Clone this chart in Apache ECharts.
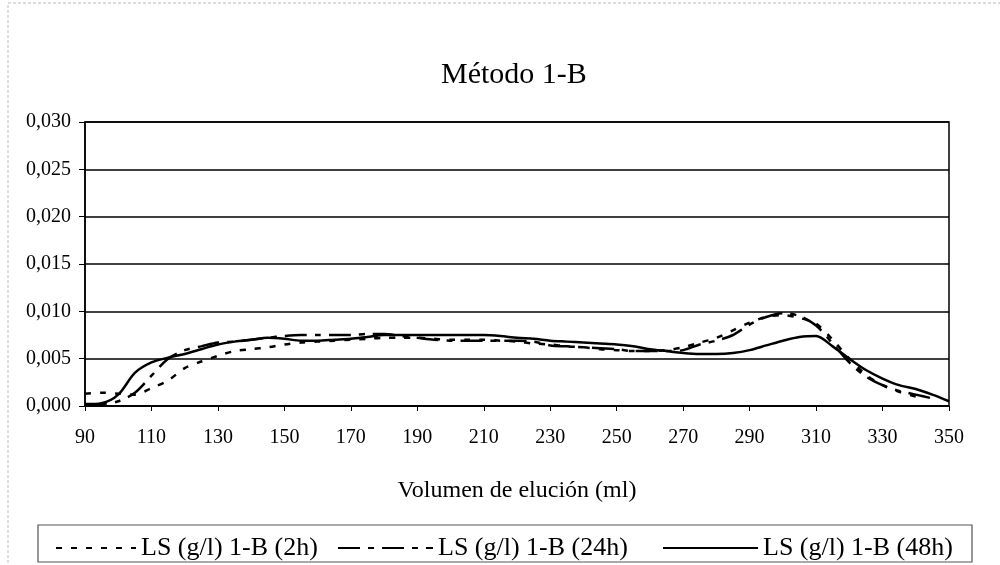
<!DOCTYPE html>
<html>
<head>
<meta charset="utf-8">
<script src="https://cdn.jsdelivr.net/npm/echarts@6/dist/echarts.min.js"></script>
<style>
    html, body { margin: 0; padding: 0; background: #fff; }
    #chart { width: 1000px; height: 565px; }
</style>
</head>
<body>
<div id="chart"></div>
<script>
// elution volume (ml), one reading every 5 ml
const volumes = [90, 95, 100, 105, 110, 115, 120, 125, 130, 135, 140, 145, 150, 155, 160, 165, 170, 175, 180, 185,
    190, 195, 200, 205, 210, 215, 220, 225, 230, 235, 240, 245, 250, 255, 260, 265, 270, 275, 280, 285,
    290, 295, 300, 305, 310, 315, 320, 325, 330, 335, 340, 345, 350]

const ls2h = [0.0013, 0.0014, 0.0013, 0.0012, 0.0019, 0.0027, 0.0040, 0.0047, 0.0053, 0.0058, 0.0060, 0.0062, 0.0065, 0.0067, 0.0068, 0.0069, 0.0070, 0.0071, 0.0072, 0.0072,
    0.0072, 0.0071, 0.0070, 0.0070, 0.0070, 0.0069, 0.0068, 0.0066, 0.0065, 0.0063, 0.0062, 0.0060, 0.0059, 0.0058, 0.0058, 0.0059, 0.0062, 0.0067, 0.0072, 0.0080,
    0.0088, 0.0094, 0.0096, 0.0093, 0.0087, 0.0070, 0.0050, 0.0033, 0.0022, 0.0015, 0.0010, null, null]

const ls24h = [0.0001, 0.0002, 0.0005, 0.0014, 0.0032, 0.0050, 0.0059, 0.0063, 0.0067, 0.0068, 0.0070, 0.0072, 0.0074, 0.0075, 0.0075, 0.0075, 0.0075, 0.0076, 0.0076, 0.0074,
    0.0072, 0.0070, 0.0069, 0.0069, 0.0069, 0.0069, 0.0069, 0.0068, 0.0064, 0.0063, 0.0062, 0.0061, 0.0060, 0.0058, 0.0058, 0.0058, 0.0059, 0.0065, 0.0069, 0.0075,
    0.0086, 0.0094, 0.0098, 0.0095, 0.0085, 0.0066, 0.0046, 0.0031, 0.0022, 0.0016, 0.0012, 0.0008, null]

const ls48h = [0.0002, 0.0003, 0.0012, 0.0035, 0.0046, 0.0051, 0.0055, 0.0060, 0.0065, 0.0068, 0.0070, 0.0072, 0.0071, 0.0069, 0.0069, 0.0070, 0.0071, 0.0073, 0.0075, 0.0075,
    0.0075, 0.0075, 0.0075, 0.0075, 0.0075, 0.0074, 0.0072, 0.0071, 0.0069, 0.0068, 0.0067, 0.0066, 0.0065, 0.0063, 0.0060, 0.0058, 0.0056, 0.0055, 0.0055, 0.0056,
    0.0059, 0.0064, 0.0069, 0.0073, 0.0074, 0.0063, 0.0050, 0.0038, 0.0029, 0.0022, 0.0018, 0.0012, 0.0005]

const seriesNames = ['LS (g/l) 1-B (2h)', 'LS (g/l) 1-B (24h)', 'LS (g/l) 1-B (48h)']

// x axis starts at 90 with ticks every 20, so the axis is drawn shifted by 90
const X0 = 90

const FONT = '"Liberation Serif", "Times New Roman", serif'

const toPairs = values => volumes.map((v, i) => [v - X0, values[i]])

const lineSeries = (name, values, type) => ({
    name,
    type: 'line',
    data: toPairs(values),
    smooth: 0.3,
    symbol: 'none',
    lineStyle: { color: '#000', width: 2.5, type },
    itemStyle: { color: '#000' },
})

// one legend per entry so each sits where the original box puts it
const legendAt = (name, left, sampleWidth) => ({
    z: 10,
    left,
    top: 530,
    itemWidth: sampleWidth,
    itemHeight: 14,
    data: [name],
    itemStyle: { opacity: 0 },
    lineStyle: { width: 2 },
    textStyle: { fontFamily: FONT, fontSize: 26, color: '#000' },
})

const chart = echarts.init(document.getElementById('chart'), null, { renderer: 'canvas' })
chart.setOption({
    backgroundColor: '#fff',
    animation: false,
    textStyle: { fontFamily: FONT, color: '#000' },
    title: {
        text: 'Método 1-B',
        left: 436,
        top: 55,
        textStyle: { fontFamily: FONT, fontSize: 30, fontWeight: 'normal', color: '#000' },
    },
    graphic: [
        {
            type: 'rect',
            z: -10,
            shape: { x: 8, y: 3, width: 1000, height: 600 },
            style: { fill: 'none', stroke: '#bbb', lineWidth: 1, lineDash: [3, 2] },
            silent: true,
        },
        {
            type: 'rect',
            z: -10,
            shape: { x: 38, y: 525, width: 934, height: 37 },
            style: { fill: '#fff', stroke: '#555', lineWidth: 1.2 },
            silent: true,
        },
    ],
    legend: [
        legendAt(seriesNames[0], 50, 80),
        legendAt(seriesNames[1], 332, 95),
        legendAt(seriesNames[2], 657, 95),
    ],
    grid: {
        left: 85,
        right: 51,
        top: 122,
        bottom: 159,
        show: true,
        borderColor: '#000',
        borderWidth: 1.5,
        backgroundColor: '#fff',
    },
    xAxis: {
        type: 'value',
        min: 0,
        max: 260,
        interval: 20,
        name: 'Volumen de elución (ml)',
        nameLocation: 'middle',
        nameGap: 73,
        nameTextStyle: { fontFamily: FONT, fontSize: 24, color: '#000' },
        axisLine: { show: true, lineStyle: { color: '#000', width: 1.5 } },
        axisTick: { show: true, length: 5, lineStyle: { color: '#000', width: 1 } },
        axisLabel: {
            margin: 22,
            fontFamily: FONT,
            fontSize: 20,
            color: '#000',
            formatter: v => String(v + X0),
        },
        splitLine: { show: false },
    },
    yAxis: {
        type: 'value',
        min: 0,
        max: 0.03,
        interval: 0.005,
        axisLine: { show: true, lineStyle: { color: '#000', width: 1.5 } },
        axisTick: { show: true, length: 6, lineStyle: { color: '#000', width: 1 } },
        axisLabel: {
            margin: 14,
            fontFamily: FONT,
            fontSize: 20,
            color: '#000',
            formatter: v => v.toFixed(3).replace('.', ','),
        },
        splitLine: { show: true, lineStyle: { color: '#000', width: 1.5 } },
    },
    series: [
        lineSeries(seriesNames[0], ls2h, [6, 9]),
        lineSeries(seriesNames[1], ls24h, [22, 8, 6, 8]),
        lineSeries(seriesNames[2], ls48h, 'solid'),
    ],
})
</script>
</body>
</html>
